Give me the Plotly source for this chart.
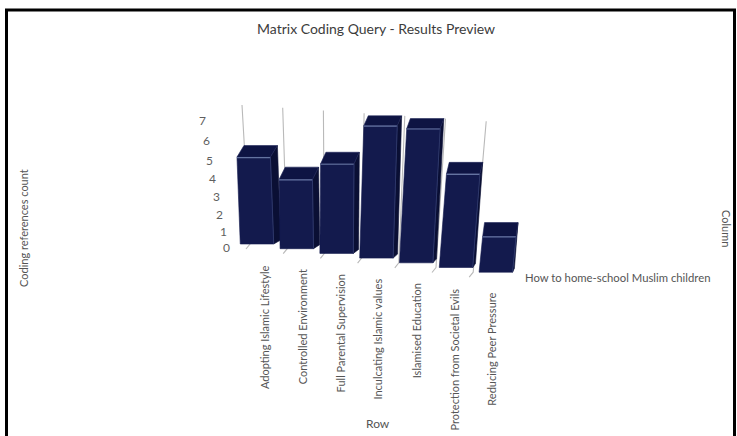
import plotly.graph_objects as go

# ---------------- data ----------------
categories = [
    "Adopting Islamic Lifestyle",
    "Controlled Environment",
    "Full Parental Supervision",
    "Inculcating Islamic values",
    "Islamised Education",
    "Protection from Societal Evils",
    "Reducing Peer Pressure",
]
values = [5, 4, 5, 7, 7, 5, 2]
value_ticks = [0, 1, 2, 3, 4, 5, 6, 7]
column_label = "How to home-school Muslim children"
title_text = "Matrix Coding Query - Results Preview"
y_title = "Coding references count"
x_title = "Row"
z_title = "Column"
grid_top_value = 7.7

FONT = "Lato, 'Open Sans', sans-serif"

# ---------------- simple 3D-look projection (screen px) ----------------
def height_px(v, c):
    return (0.98 + 0.015 * c) * (16 * v + 0.35 * v * v)

def base_x(c):
    return 257 + 39.8 * c

def base_y(c):
    return 244 + 4.7 * c

def lean(c):
    return -0.038 + 0.023 * c

def depth_top(c, v):
    return 7 - 0.85 * c, -(15.5 - 0.8 * v)

HALF = 0.42

fig = go.Figure()

def poly(xs, ys, fill, line_color, width=0.6):
    fig.add_trace(go.Scatter(
        x=list(xs) + [xs[0]], y=list(ys) + [ys[0]], mode="lines", fill="toself",
        fillcolor=fill, line=dict(color=line_color, width=width),
        hoverinfo="skip", showlegend=False))

def seg(xs, ys, color, width=1.0):
    fig.add_trace(go.Scatter(
        x=xs, y=ys, mode="lines", line=dict(color=color, width=width),
        hoverinfo="skip", showlegend=False))

# gridlines (back, one per category) with little floor hooks
for j in range(len(categories)):
    xb = 250 + 37.2 * j
    yb = base_y(j)
    xt = xb - 8 + 3.5 * j
    yt = base_y(0) - height_px(grid_top_value, -1) + 2.7 * j
    seg([xt, xb, xb - 4], [yt, yb, yb + 5], "rgba(185,185,185,1)", 1.1)

# bars
FRONT = "#131a4d"
TOP = "#0e1443"
SIDE = "#0a0f34"
for i, v in enumerate(values):
    h = height_px(v, i)
    ln = lean(i)
    xl = base_x(i - HALF)
    xr = base_x(i + HALF)
    yb = base_y(i)
    yt = yb - h
    dx, dy = depth_top(i, v)
    flb = (xl, yb)
    frb = (xr, yb)
    frt = (xr + ln * h, yt)
    flt = (xl + ln * h, yt)
    blt = (flt[0] + dx, yt + dy)
    brt = (frt[0] + dx, yt + dy)
    brb = (xr + dx, yb - 4)
    poly([frb[0], frt[0], brt[0], brb[0]], [frb[1], frt[1], brt[1], brb[1]], SIDE, SIDE)
    poly([flt[0], frt[0], brt[0], blt[0]], [flt[1], frt[1], brt[1], blt[1]], TOP, "#1c2458")
    poly([flb[0], frb[0], frt[0], flt[0]], [flb[1], frb[1], frt[1], flt[1]], FRONT, FRONT)
    seg([flt[0], frt[0]], [flt[1] + 0.5, frt[1] + 0.5], "rgba(110,125,170,0.9)", 1.2)
    seg([frt[0], frb[0]], [frt[1], frb[1]], "rgba(45,55,105,1)", 1.0)

annotations = []

for t in value_ticks:
    annotations.append(dict(
        x=232 - 3.4 * t, y=base_y(0) + 3 - height_px(t, -0.1), xref="x", yref="y",
        text=str(t), showarrow=False, xanchor="right", yanchor="middle",
        font=dict(family=FONT, size=12, color="#5f5f5f")))

for i, name in enumerate(categories):
    annotations.append(dict(
        x=264 + 38 * i, y=base_y(i) + 19, xref="x", yref="y",
        text=name, showarrow=False, textangle=-90, xanchor="center", yanchor="top",
        font=dict(family=FONT, size=11, color="#555555")))

annotations += [
    dict(x=376, y=28, xref="x", yref="y", text=title_text, showarrow=False,
         xanchor="center", yanchor="middle", font=dict(family=FONT, size=14, color="#3c3c3c")),
    dict(x=23, y=228, xref="x", yref="y", text=y_title, showarrow=False, textangle=-90,
         xanchor="center", yanchor="middle", font=dict(family=FONT, size=11, color="#555555")),
    dict(x=727, y=228, xref="x", yref="y", text=z_title, showarrow=False, textangle=90,
         xanchor="center", yanchor="middle", font=dict(family=FONT, size=11, color="#555555")),
    dict(x=378, y=423, xref="x", yref="y", text=x_title, showarrow=False,
         xanchor="center", yanchor="middle", font=dict(family=FONT, size=12, color="#555555")),
    dict(x=523, y=277, xref="x", yref="y", text=column_label, showarrow=False,
         xanchor="left", yanchor="middle", font=dict(family=FONT, size=11.3, color="#555555")),
]

fig.update_layout(
    width=737, height=436,
    margin=dict(l=0, r=0, t=0, b=0),
    paper_bgcolor="white", plot_bgcolor="white",
    xaxis=dict(range=[0, 737], visible=False, fixedrange=True),
    yaxis=dict(range=[436, 0], visible=False, fixedrange=True),
    annotations=annotations,
    shapes=[dict(type="rect", xref="x", yref="y", x0=6.5, y0=10, x1=734.5, y1=445,
                 line=dict(color="black", width=3), fillcolor="rgba(0,0,0,0)")],
    showlegend=False,
)

fig.write_html("out.html")
